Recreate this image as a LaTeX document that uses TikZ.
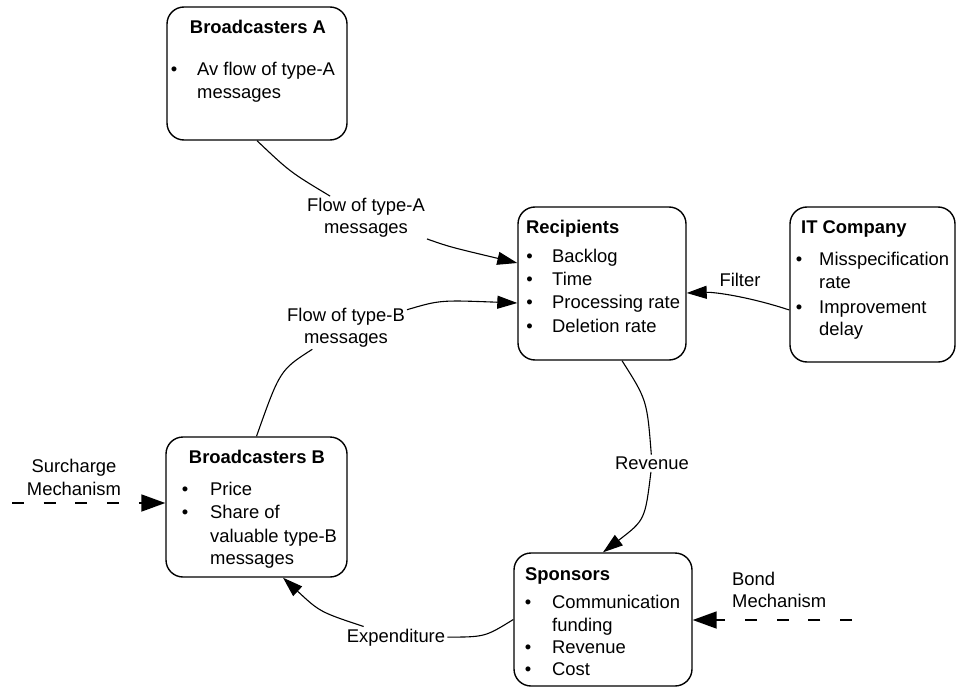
\documentclass[tikz,border=0pt]{standalone}
\usepackage{fontspec}
\setmainfont{Liberation Sans}
\usetikzlibrary{arrows.meta}
\begin{document}
\begin{tikzpicture}[x=1pt,y=-1pt,
  font=\fontsize{18.4}{23.3}\selectfont,
  box/.style={draw, rounded corners=17pt, line width=1.4pt, inner sep=0pt},
  txt/.style={anchor=base west, inner sep=0pt},
  ttl/.style={anchor=base west, inner sep=0pt, font=\fontsize{18.4}{23.3}\selectfont\bfseries},
  blt/.style={anchor=base, inner sep=0pt},
  lbl/.style={align=center, inner sep=2pt, font=\fontsize{18.4}{21.6}\selectfont},
  link/.style={line width=1.1pt},
  arr/.style={link, -{Triangle[length=20pt,width=13pt]}},
  mech/.style={line width=1.8pt, dash pattern=on 12pt off 19.7pt, -{Triangle[length=24pt,width=17pt]}}
]
\useasboundingbox (0,0) rectangle (960,687);

% ---- actor boxes ----
\node[box, minimum width=180pt, minimum height=133pt] (BA) at (257,73.5) {};
\node[box, minimum width=168pt, minimum height=153pt] (RC) at (602,283.5) {};
\node[box, minimum width=165pt, minimum height=155pt] (IT) at (872.5,284.5) {};
\node[box, minimum width=181pt, minimum height=140pt] (BB) at (256.5,507) {};
\node[box, minimum width=178pt, minimum height=133pt] (SP) at (603,619.5) {};

% Broadcasters A
\node[ttl, anchor=base] (BAt) at (258,34) {Broadcasters A};
\node[blt] (BAb1) at (174,76) {•};
\node[txt] (BAi1) at (197,76) {Av flow of type-A};
\node[txt] (BAi1b) at (197,99) {messages};

% Recipients
\node[ttl] (RCt) at (526,233) {Recipients};
\node[blt] (RCb1) at (529.5,262) {•};
\node[blt] (RCb2) at (529.5,285) {•};
\node[blt] (RCb3) at (529.5,308) {•};
\node[blt] (RCb4) at (529.5,332) {•};
\node[txt] (RCi1) at (552,262) {Backlog};
\node[txt] (RCi2) at (552,285) {Time};
\node[txt] (RCi3) at (552,308) {Processing rate};
\node[txt] (RCi4) at (552,332) {Deletion rate};

% IT Company
\node[ttl] (ITt) at (801,233) {IT Company};
\node[blt] (ITb1) at (799,265) {•};
\node[blt] (ITb2) at (799,313) {•};
\node[txt] (ITi1) at (819,265) {Misspecification};
\node[txt] (ITi1b) at (819,288) {rate};
\node[txt] (ITi2) at (819,313) {Improvement};
\node[txt] (ITi2b) at (819,335) {delay};

% Broadcasters B
\node[ttl, anchor=base] (BBt) at (257,463) {Broadcasters B};
\node[blt] (BBb1) at (185,495) {•};
\node[blt] (BBb2) at (185,518) {•};
\node[txt] (BBi1) at (210,495) {Price};
\node[txt] (BBi2) at (210,518) {Share of};
\node[txt] (BBi2b) at (210,542) {valuable type-B};
\node[txt] (BBi2c) at (210,564) {messages};

% Sponsors
\node[ttl] (SPt) at (525,580) {Sponsors};
\node[blt] (SPb1) at (528,608) {•};
\node[blt] (SPb2) at (528,653) {•};
\node[blt] (SPb3) at (528,675) {•};
\node[txt] (SPi1) at (552,608) {Communication};
\node[txt] (SPi1b) at (552,631) {funding};
\node[txt] (SPi2) at (552,653) {Revenue};
\node[txt] (SPi3) at (552,675) {Cost};

% ---- flow labels ----
\node[lbl] (LA) at (366,217.7) {Flow of type-A\\messages};
\node[lbl] (LB) at (346,327.7) {Flow of type-B\\messages};
\node[lbl] (LF) at (740,280.3) {Filter};
\node[lbl] (LR) at (652,463.3) {Revenue};
\node[lbl] (LE) at (396,637.3) {Expenditure};
\node[lbl, font=\fontsize{18.4}{23}\selectfont, inner sep=0pt] (LS) at (74,477.8) {Surcharge\\Mechanism};
\node[lbl, align=left, anchor=west, inner sep=0pt, font=\fontsize{18.4}{22}\selectfont] (LBo) at (732,590.3) {Bond\\Mechanism};

% ---- flows ----
\draw[link] (BA.south) .. controls (290,172) .. (LA);
\draw[arr] (LA) .. controls (450,247) .. ([yshift=20.5pt]RC.west);

\draw[link] (BB.north) .. controls (280,370) .. (LB);
\draw[arr] (LB) .. controls (440,300) .. ([yshift=-19.5pt]RC.west);

\draw[arr] ([yshift=-25.5pt]IT.west) .. controls (750,297) and (715,292) .. ([yshift=-9.5pt]RC.east);

\draw[link] ([xshift=20pt]RC.south) .. controls (647,400) .. (LR);
\draw[arr] (LR) .. controls (645,520) .. (SP.north);

\draw[link] (SP.west) .. controls (485,637) .. (LE);
\draw[arr] (LE) .. controls (320,612) .. ([xshift=26.5pt]BB.south);

% ---- mechanisms ----
\coordinate (SM) at (12,503);
\coordinate (BM) at (852,620);
\draw[mech] (SM) -- ([yshift=4pt]BB.west);
\draw[mech] (BM) -- ([yshift=-0.5pt]SP.east);
\end{tikzpicture}
\end{document}
